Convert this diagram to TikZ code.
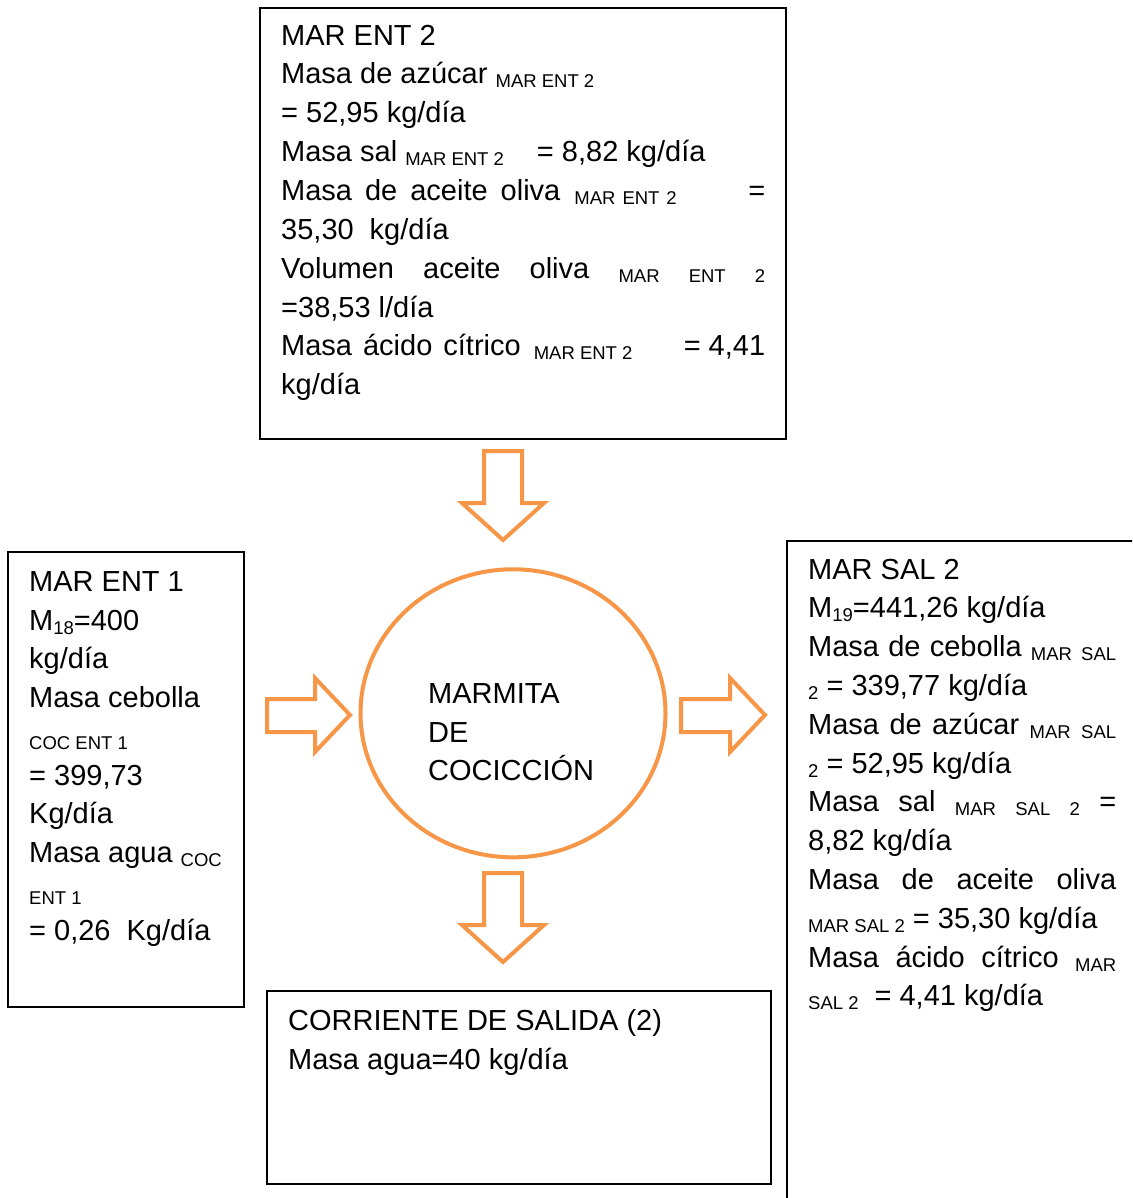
\documentclass[tikz,border=0pt]{standalone}
\usepackage{fontspec}
\setmainfont{Liberation Sans}
\usetikzlibrary{shapes.geometric}
\definecolor{accent}{HTML}{F79646}
% lowered, smaller index text
\newcommand\sbx[1]{\raisebox{-4pt}{\fontsize{18.5pt}{18.5pt}\selectfont #1}}
\tikzset{
  frame/.style={draw=black, line width=2pt, rectangle, inner sep=0pt},
  lbl/.style={anchor=base west, inner sep=0pt, font=\fontsize{29pt}{39pt}\selectfont},
  sml/.style={anchor=base west, inner sep=0pt, font=\fontsize{18.5pt}{18.5pt}\selectfont},
  blockarrow/.style={draw=accent, line width=4pt, fill=white, line join=miter},
}
\begin{document}
\begin{tikzpicture}[x=1pt, y=-1pt]
\clip (0,0) rectangle (1132,1198);
\fill[white] (0,0) rectangle (1132,1198);

% boxes
\node[frame, minimum width=526pt, minimum height=431pt] (topbox) at (523,223.5) {};
\node[frame, minimum width=236pt, minimum height=455pt] (leftbox) at (126,779.5) {};
\node[frame, minimum width=504pt, minimum height=193pt] (botbox) at (519,1087.5) {};
\draw[black, line width=2pt] (787,1205) -- (787,541) -- (1140,541);

% cooking pot
\node[draw=accent, line width=4pt, ellipse, minimum width=305pt, minimum height=288pt, inner sep=0pt] (pot) at (513,713.3) {};
\node[lbl] (m1) at (428,703) {MARMITA};
\node[lbl] (m2) at (428,742) {DE};
\node[lbl] (m3) at (428,780) {COCICCIÓN};

% block arrows
\draw[blockarrow] (484,451) -- (522,451) -- (522,503) -- (544,503) -- (503,540) -- (462,503) -- (484,503) -- cycle;
\draw[blockarrow] (484,873) -- (522,873) -- (522,925) -- (544,925) -- (503,962) -- (462,925) -- (484,925) -- cycle;
\draw[blockarrow] (267,699) -- (315,699) -- (315,678) -- (350,715) -- (315,752) -- (315,732) -- (267,732) -- cycle;
\draw[blockarrow] (681,699) -- (730,699) -- (730,678) -- (765,715) -- (730,752) -- (730,732) -- (681,732) -- cycle;

% MAR ENT 2
\node[lbl] (t1) at (281,46) {MAR ENT 2};
\node[lbl] (t2) at (281,84) {Masa de azúcar \sbx{MAR ENT 2}};
\node[lbl] (t3) at (281,123) {= 52,95 kg/día};
\node[lbl] (t4) at (281,162) {Masa sal \sbx{MAR ENT 2}\hskip 33pt= 8,82 kg/día};
\node[lbl] (t5) at (281,201) {\hbox to 484pt{Masa\hskip 13pt de\hskip 13pt aceite\hskip 13pt oliva\hskip 14pt\sbx{MAR\hskip 7pt ENT\hskip 7pt 2}\hfill=}};
\node[lbl] (t6) at (281,240) {35,30\hskip 16pt kg/día};
\node[lbl] (t7) at (281,278) {\hbox to 484pt{Volumen\hfill aceite\hfill oliva\hfill\sbx{MAR}\hfill\sbx{ENT}\hfill\sbx{2}}};
\node[lbl] (t8) at (281,317) {=38,53 l/día};
\node[lbl] (t9) at (281,355) {\hbox to 484pt{Masa\hskip 11pt ácido\hskip 11pt cítrico\hskip 13pt\sbx{MAR ENT 2}\hfill= 4,41}};
\node[lbl] (t10) at (281,394) {kg/día};

% MAR ENT 1
\node[lbl] (l1) at (29,591) {MAR ENT 1};
\node[lbl] (l2) at (29,630) {M\sbx{18}=400};
\node[lbl] (l3) at (29,668) {kg/día};
\node[lbl] (l4) at (29,707) {Masa cebolla};
\node[sml] (l5) at (29,749) {COC ENT 1};
\node[lbl] (l6) at (29,785) {= 399,73};
\node[lbl] (l7) at (29,823) {Kg/día};
\node[lbl] (l8) at (29,862) {Masa agua \sbx{COC}};
\node[sml] (l9) at (29,904) {ENT 1};
\node[lbl] (l10) at (29,940) {= 0,26\hskip 16pt Kg/día};

% MAR SAL 2
\node[lbl] (r1) at (808,579) {MAR SAL 2};
\node[lbl] (r2) at (808,617) {M\sbx{19}=441,26 kg/día};
\node[lbl] (r3) at (808,656) {\hbox to 308pt{Masa\hfill de\hfill cebolla\hfill\sbx{MAR}\hfill\sbx{SAL}}};
\node[lbl] (r4) at (808,695) {\sbx{2} = 339,77 kg/día};
\node[lbl] (r5) at (808,734) {\hbox to 308pt{Masa\hfill de\hfill azúcar\hfill\sbx{MAR}\hfill\sbx{SAL}}};
\node[lbl] (r6) at (808,773) {\sbx{2} = 52,95 kg/día};
\node[lbl] (r7) at (808,811) {\hbox to 308pt{Masa\hfill sal\hfill\sbx{MAR}\hfill\sbx{SAL}\hfill\sbx{2}\hfill=}};
\node[lbl] (r8) at (808,850) {8,82 kg/día};
\node[lbl] (r9) at (808,889) {\hbox to 308pt{Masa\hfill de\hfill aceite\hfill oliva}};
\node[lbl] (r10) at (808,928) {\sbx{MAR SAL 2} = 35,30 kg/día};
\node[lbl] (r11) at (808,967) {\hbox to 308pt{Masa\hfill ácido\hfill cítrico\hfill\sbx{MAR}}};
\node[lbl] (r12) at (808,1005) {\sbx{SAL 2}\hskip 16pt= 4,41 kg/día};

% CORRIENTE DE SALIDA (2)
\node[lbl] (b1) at (288,1030) {CORRIENTE DE SALIDA (2)};
\node[lbl] (b2) at (288,1069) {Masa agua=40 kg/día};
\end{tikzpicture}
\end{document}
